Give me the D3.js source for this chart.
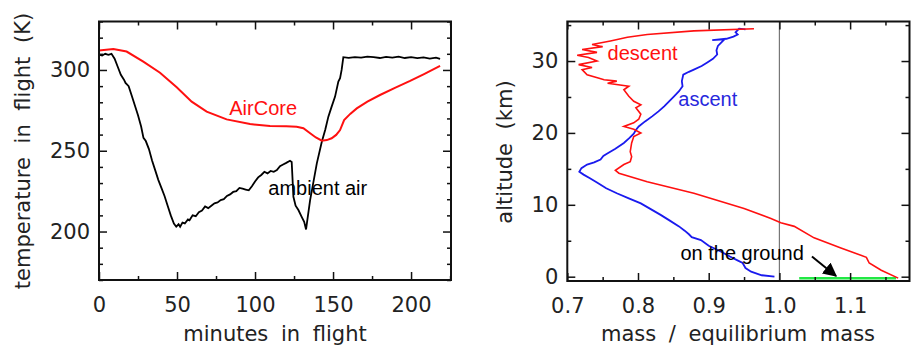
<!DOCTYPE html>
<html>
<head>
<meta charset="utf-8">
<script src="https://cdn.jsdelivr.net/npm/d3@7"></script>
<style>
  body { margin: 0; background: #fff; }
  .tick text { font-family: "DejaVu Sans", sans-serif; font-size: 21px; fill: #222; }
  .title { font-family: "DejaVu Sans", sans-serif; font-size: 21px; fill: #222; }
  .note { font-family: "Liberation Sans", Arial, sans-serif; font-size: 20px; }
</style>
</head>
<body>
<div id="chart"></div>
<script>

// left panel: temperature during the flight
var ambientMin = [0,2,4,6,8,10,12,14,16,17,19,21,23,25,27,28.5,30,32,34,36,38,40,42,44,46,48,49.5,51,52,53.5,55,57,58,60,62,64,66,68,70,72,74,76,78,80,82,84,86,88,90,92,94,96,98,100,102,104,106,108,110,112,114,116,118,120,122.4,123.5,124.6,126,127.8,129.9,131.5,132.7,135.3,137.5,139.6,142.8,145,147,149,151.3,153.4,154.5,155.5,156.6,160,164,168,172,176,180,184,188,192,196,200,204,208,212,216,218.6];
var ambientTemp = [309.5,309,310,309.4,310,307,302,297,294,292,290,284,278,272,265,258,256,251,244,238,232,227,222,216,210,205,203,204.5,203,205.5,205,207.5,207,210,209.5,212,213,215.5,214.5,216,217.5,218,219.5,220,222,223,224.5,225,227,226.5,226,225.5,228,231,233.5,235,237,236,237.5,237,238,240.5,241.5,242.5,243.8,243,221.5,216,213.3,209.1,206,201.3,219.5,231,242.2,255.6,263,271.1,277,283.5,292.8,294.9,300,307.9,307.5,308,307.6,308.3,308,307.4,308.1,307.6,308.2,307.4,307.9,307.3,307.8,307,307.6,306.8];

var aircoreMin = [0,9.2,17.7,28.4,39.1,49.8,59.4,69,81.8,96.8,109.6,120,126.7,131,135.3,139,142.8,146,149.1,152,154.5,157.1,161,165.2,172,180.1,190,199.4,208,218.6];
var aircoreTemp = [312,313,311.4,305.2,298.3,289.3,280.4,274.2,269.4,266.5,265.3,265.1,264.9,263.9,260.8,258.2,256.2,256.6,257.7,259.8,262.8,269,272.8,276.2,280.4,284.5,289.1,293.2,297.3,302.5];

var leftXMajor = [0,50,100,150,200],
    leftXMinor = [25,75,125,175,225],
    leftYMajor = [200,250,300],
    leftYMinor = [170,180,190,210,220,230,240,260,270,280,290,310,320,330];

// right panel: mass ratio against altitude
var ascentMass = [0.993,0.975,0.96,0.952,0.948,0.94,0.93,0.917,0.9,0.889,0.876,0.872,0.866,0.858,0.845,0.832,0.818,0.804,0.787,0.77,0.755,0.742,0.732,0.723,0.717,0.72,0.728,0.738,0.747,0.751,0.756,0.768,0.78,0.788,0.794,0.797,0.801,0.81,0.82,0.829,0.837,0.844,0.851,0.858,0.863,0.862,0.864,0.872,0.879,0.89,0.898,0.906,0.912,0.911,0.913,0.918,0.922,0.905,0.925,0.935,0.941,0.938,0.943,0.952];
var ascentAlt = [0,0.2,0.7,1.2,1.9,2.3,2.8,3.5,4.3,5.1,5.5,5.9,6.4,7,7.8,8.6,9.4,10.2,10.9,11.6,12.3,13.1,13.7,14.2,14.6,15.1,15.6,15.9,16.3,16.8,17.1,17.8,18.6,19.3,19.9,20.4,20.9,21.6,22.3,23,23.7,24.4,25.1,25.8,26.5,27.2,28.1,28.5,28.8,29.3,29.8,30.3,30.9,31.5,32.1,32.6,33,32.9,33.1,33.4,33.7,34,34.5,34.4];

var descentMass = [0.964,0.879,0.813,0.785,0.761,0.735,0.75,0.721,0.742,0.714,0.73,0.742,0.716,0.735,0.721,0.728,0.745,0.752,0.77,0.757,0.787,0.78,0.787,0.794,0.804,0.797,0.804,0.801,0.794,0.78,0.794,0.804,0.794,0.791,0.789,0.791,0.789,0.78,0.768,0.773,0.813,0.879,0.95,0.988,1.002,1.021,1.049,1.087,1.123,1.127,1.144,1.168];
var descentAlt = [34.5,34.2,33.7,33.3,32.8,32.3,32,31.6,31.2,30.8,30.5,30,29.5,29.1,28.8,28.1,27.6,27.4,27.2,26.9,26.5,26,25.1,24.4,23.9,23.5,22.6,21.9,21.4,20.9,20.5,20,19.5,18.6,17.4,16.7,16,15.6,14.8,14.4,13.2,11.6,9.5,8.1,7.5,7,5.4,4,2.7,1.9,0.9,-0.2];

var groundMass = [1.028, 1.165],
    groundAlt = [-0.2, -0.2];

var rightXMajor = [0.7,0.8,0.9,1.0,1.1],
    rightXMinor = [0.75,0.85,0.95,1.05,1.15],
    rightYMajor = [0,10,20,30],
    rightYMinor = [5,15,25,35];

var width = 921, height = 361;
var svg = d3.select("#chart").append("svg")
  .attr("width", width)
  .attr("height", height);

// draws an IDL style box: ticks inward on all four sides, labels bottom/left
function drawFrame(g, x, y, xMaj, xMin, yMaj, yMin, xFmt, yFmt) {
  var w = x.range()[1] - x.range()[0],
      h = y.range()[0] - y.range()[1];
  var left = x.range()[0], top = y.range()[1];

  g.append("g").attr("transform", "translate(0," + (top + h) + ")")
    .call(d3.axisBottom(x).tickValues(xMaj).tickSize(-8).tickPadding(17).tickFormat(xFmt));
  g.append("g").attr("transform", "translate(0," + (top + h) + ")")
    .call(d3.axisBottom(x).tickValues(xMin).tickSize(-4).tickFormat(""));
  g.append("g").attr("transform", "translate(0," + top + ")")
    .call(d3.axisTop(x).tickValues(xMaj).tickSize(-8).tickFormat(""));
  g.append("g").attr("transform", "translate(0," + top + ")")
    .call(d3.axisTop(x).tickValues(xMin).tickSize(-4).tickFormat(""));

  g.append("g").attr("transform", "translate(" + left + ",0)")
    .call(d3.axisLeft(y).tickValues(yMaj).tickSize(-8).tickPadding(9).tickFormat(yFmt));
  g.append("g").attr("transform", "translate(" + left + ",0)")
    .call(d3.axisLeft(y).tickValues(yMin).tickSize(-4).tickFormat(""));
  g.append("g").attr("transform", "translate(" + (left + w) + ",0)")
    .call(d3.axisRight(y).tickValues(yMaj).tickSize(-8).tickFormat(""));
  g.append("g").attr("transform", "translate(" + (left + w) + ",0)")
    .call(d3.axisRight(y).tickValues(yMin).tickSize(-4).tickFormat(""));

  g.selectAll(".domain").remove();
  g.selectAll(".tick line").style("stroke", "#111").style("stroke-width", 1.5);

  g.append("rect")
    .attr("x", left).attr("y", top)
    .attr("width", w).attr("height", h)
    .style("fill", "none")
    .style("stroke", "#111")
    .style("stroke-width", 2);
}

function toPairs(a, b) {
  return a.map(function(v, i) { return [v, b[i]]; });
}

// ---------- left panel ----------
var x1 = d3.scaleLinear().domain([0, 225.6]).range([99, 451]);
var y1 = d3.scaleLinear().domain([170, 330]).range([280, 21.5]);
var g1 = svg.append("g");

var line1 = d3.line().x(function(d) { return x1(d[0]); }).y(function(d) { return y1(d[1]); });

g1.append("path")
  .attr("d", line1(toPairs(ambientMin, ambientTemp)))
  .style("fill", "none").style("stroke", "#000").style("stroke-width", 1.8);
g1.append("path")
  .attr("d", line1(toPairs(aircoreMin, aircoreTemp)))
  .style("fill", "none").style("stroke", "#ff1010").style("stroke-width", 2);

drawFrame(g1, x1, y1, leftXMajor, leftXMinor, leftYMajor, leftYMinor, d3.format("d"), d3.format("d"));

g1.append("text").attr("class", "note")
  .attr("x", x1(83.5)).attr("y", y1(272))
  .style("fill", "#ff1010").text("AirCore");
g1.append("text").attr("class", "note")
  .attr("x", x1(108.5)).attr("y", y1(222.5))
  .style("fill", "#000").text("ambient air");

g1.append("text").attr("class", "title")
  .attr("x", 275).attr("y", 341)
  .attr("text-anchor", "middle")
  .style("word-spacing", "6px")
  .text("minutes in flight");
g1.append("text").attr("class", "title")
  .attr("transform", "translate(30,151) rotate(-90)")
  .attr("text-anchor", "middle")
  .style("word-spacing", "7px")
  .text("temperature in flight (K)");

// ---------- right panel ----------
var x2 = d3.scaleLinear().domain([0.7, 1.184]).range([567.3, 909.5]);
var y2 = d3.scaleLinear().domain([-0.6, 35.5]).range([281, 21.5]);
var g2 = svg.append("g");

var line2 = d3.line().x(function(d) { return x2(d[0]); }).y(function(d) { return y2(d[1]); });

g2.append("line")
  .attr("x1", x2(1.0)).attr("x2", x2(1.0))
  .attr("y1", y2(35.5)).attr("y2", y2(-0.6))
  .style("stroke", "#777").style("stroke-width", 1.2);

g2.append("path")
  .attr("d", line2(toPairs(groundMass, groundAlt)))
  .style("fill", "none").style("stroke", "#22e844").style("stroke-width", 2.5);
g2.append("path")
  .attr("d", line2(toPairs(ascentMass, ascentAlt)))
  .style("fill", "none").style("stroke", "#1a1aee").style("stroke-width", 1.8);
g2.append("path")
  .attr("d", line2(toPairs(descentMass, descentAlt)))
  .style("fill", "none").style("stroke", "#ff1010").style("stroke-width", 1.6);

drawFrame(g2, x2, y2, rightXMajor, rightXMinor, rightYMajor, rightYMinor, d3.format(".1f"), d3.format("d"));

// arrow pointing at the ground line
svg.append("defs").append("marker")
  .attr("id", "head")
  .attr("viewBox", "0 0 10 10")
  .attr("refX", 9).attr("refY", 5)
  .attr("markerWidth", 7).attr("markerHeight", 7)
  .attr("markerUnits", "strokeWidth")
  .attr("orient", "auto")
  .append("path").attr("d", "M0,0L10,5L0,10z").style("fill", "#000");

g2.append("line")
  .attr("x1", x2(1.046)).attr("y1", y2(2.8))
  .attr("x2", x2(1.08)).attr("y2", y2(0.1))
  .style("stroke", "#000").style("stroke-width", 2)
  .attr("marker-end", "url(#head)");

g2.append("text").attr("class", "note")
  .attr("x", x2(0.860)).attr("y", y2(2.3))
  .style("fill", "#000").text("on the ground");
g2.append("text").attr("class", "note")
  .attr("x", x2(0.757)).attr("y", y2(30.2))
  .style("fill", "#ff1010").text("descent");
g2.append("text").attr("class", "note")
  .attr("x", x2(0.857)).attr("y", y2(23.7))
  .style("fill", "#2828dd").text("ascent");

g2.append("text").attr("class", "title")
  .attr("x", 738).attr("y", 341)
  .attr("text-anchor", "middle")
  .style("word-spacing", "6px")
  .text("mass / equilibrium mass");
g2.append("text").attr("class", "title")
  .attr("transform", "translate(512,152) rotate(-90)")
  .attr("text-anchor", "middle")
  .style("word-spacing", "7px")
  .text("altitude (km)");

</script>
</body>
</html>
